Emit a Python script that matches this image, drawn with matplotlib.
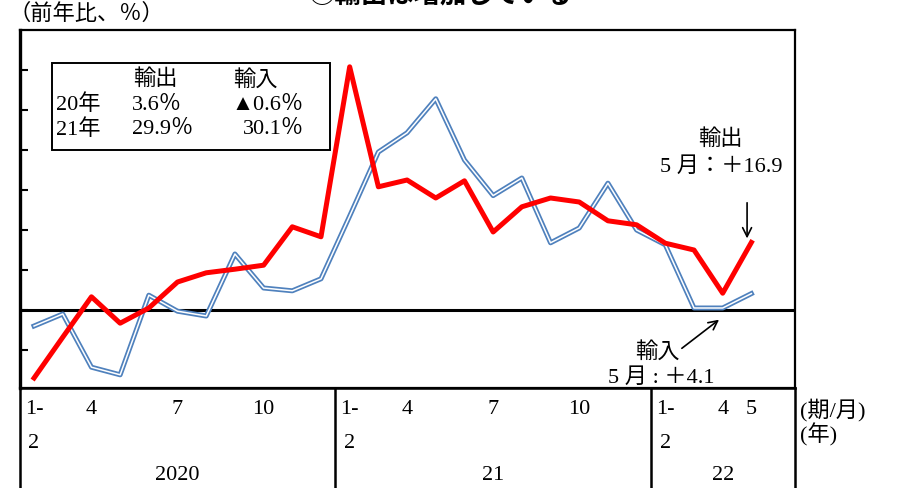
import matplotlib
matplotlib.use("Agg")
import matplotlib.pyplot as plt
from matplotlib.patches import Rectangle

plt.rcParams['font.family'] = ['Liberation Serif', 'Noto Sans CJK JP', 'DejaVu Sans']

# ---------------- data ----------------
periods = ['1-2', '3', '4', '5', '6', '7', '8', '9', '10', '11', '12',
           '1-2', '3', '4', '5', '6', '7', '8', '9', '10', '11', '12',
           '1-2', '3', '4', '5']
exports = [-17.0, -6.8, 3.3, -3.3, 0.5, 7.0, 9.3, 10.2, 11.2, 20.8, 18.3,
           60.8, 30.8, 32.5, 28.0, 32.3, 19.5, 25.8, 28.0, 27.0, 22.3, 21.3,
           16.7, 15.0, 4.2, 16.9]
imports = [-4.0, -1.0, -14.3, -16.2, 3.7, -0.3, -1.5, 14.0, 5.5, 4.8, 7.8,
           23.5, 39.5, 44.3, 52.8, 37.5, 28.6, 33.0, 16.8, 20.5, 31.7, 20.0,
           16.3, 0.5, 0.5, 4.1]
tick_months = {0: '1-', 2: '4', 5: '7', 8: '10',
               11: '1-', 13: '4', 16: '7', 19: '10',
               22: '1-', 24: '4', 25: '5'}
second_row = {0: '2', 11: '2', 22: '2'}
years = ['2020', '21', '22']
year_bounds = [(-0.49, 10.5), (10.5, 21.5), (21.5, 26.52)]
legend_rows = [('20年', '3.6％', '▲0.6％'), ('21年', '29.9％', '30.1％')]

W, H = 899, 488
fig = plt.figure(figsize=(W / 100, H / 100), dpi=100)


def fx(px):
    return px / W


def fy(py):
    return 1 - py / H


FS = 16
x = list(range(len(periods)))
xlim = (-0.49, 26.52)

# ---------------- main axes ----------------
ax = fig.add_axes([fx(20), fy(388), fx(795) - fx(20), fy(30) - fy(388)])
ax.set_xlim(*xlim)
ax.set_ylim(-19.5, 70)
ax.set_xticks([])
ax.set_yticks(range(-10, 70, 10))
ax.set_yticklabels([])
ax.tick_params(axis='y', direction='in', length=6, width=1.5)
ax.spines['left'].set_linewidth(2.4)
for s in ['top', 'right', 'bottom']:
    ax.spines[s].set_linewidth(1.6)
ax.axhline(0, color='black', lw=2.2, zorder=2)

ax.plot(x, imports, color='#4F81BD', lw=3.6, zorder=3)
ax.plot(x, imports, color='white', lw=1.1, zorder=4)
ax.plot(x, exports, color='#FF0000', lw=3.6, zorder=5)

# annotations
ax.annotate('', xy=(24.85, exports[-1] + 0.3), xytext=(24.85, 27.5),
            arrowprops=dict(arrowstyle='->', color='black', lw=1.2,
                            mutation_scale=16))
ax.annotate('', xy=(23.95, -2.0), xytext=(22.5, -10.0),
            arrowprops=dict(arrowstyle='->', color='black', lw=1.2,
                            mutation_scale=16))

fig.text(fx(720), fy(140), '輸出', ha='center', va='center', fontsize=FS)
fig.text(fx(721), fy(167), '5 月：＋16.9', ha='center', va='center', fontsize=FS)
fig.text(fx(657), fy(352), '輸入', ha='center', va='center', fontsize=FS)
fig.text(fx(661), fy(378), '5 月 : ＋4.1', ha='center', va='center', fontsize=FS)

# legend box
fig.patches.append(Rectangle((fx(52), fy(150)), fx(330) - fx(52), fy(63) - fy(150),
                             transform=fig.transFigure, fill=False,
                             edgecolor='black', lw=1.4))
fig.text(fx(155), fy(80), '輸出', ha='center', va='center', fontsize=FS)
fig.text(fx(255), fy(80), '輸入', ha='center', va='center', fontsize=FS)
for i, (lab, e, m) in enumerate(legend_rows):
    yy = fy(105 + 25 * i)
    fig.text(fx(56), yy, lab, ha='left', va='center', fontsize=FS)
    fig.text(fx(132), yy, e, ha='left', va='center', fontsize=FS)
    fig.text(fx(304), yy, m, ha='right', va='center', fontsize=FS)

# titles
fig.text(fx(8), fy(14), '（前年比、％）', ha='left', va='center', fontsize=FS)
fig.text(fx(440), fy(-4), '②輸出は増加している', ha='center', va='center',
         fontsize=19, fontweight='bold')

# ---------------- category table below ----------------
tab = fig.add_axes([fx(20), 0, fx(795) - fx(20), fy(388)])
tab.set_xlim(*xlim)
tab.set_ylim(100, 0)
tab.set_xticks([])
tab.set_yticks([])
tab.patch.set_alpha(0)
tab.spines['bottom'].set_visible(False)
tab.spines['left'].set_linewidth(1.8)
tab.spines['right'].set_linewidth(1.8)
tab.spines['top'].set_linewidth(1.8)
for (a, b) in year_bounds[1:]:
    tab.plot([a, a], [0, 100], color='black', lw=1.8, clip_on=False)

for i, lab in tick_months.items():
    tab.text(i, 22, lab, ha='center', va='center', fontsize=FS)
for i, lab in second_row.items():
    tab.text(i, 55, lab, ha='center', va='center', fontsize=FS)
for (a, b), lab in zip(year_bounds, years):
    tab.text((a + b) / 2, 87, lab, ha='center', va='center', fontsize=FS)

fig.text(fx(800), fy(410), '(期/月)', ha='left', va='center', fontsize=FS)
fig.text(fx(800), fy(435), '(年)', ha='left', va='center', fontsize=FS)

fig.savefig('out.png', dpi=100)
